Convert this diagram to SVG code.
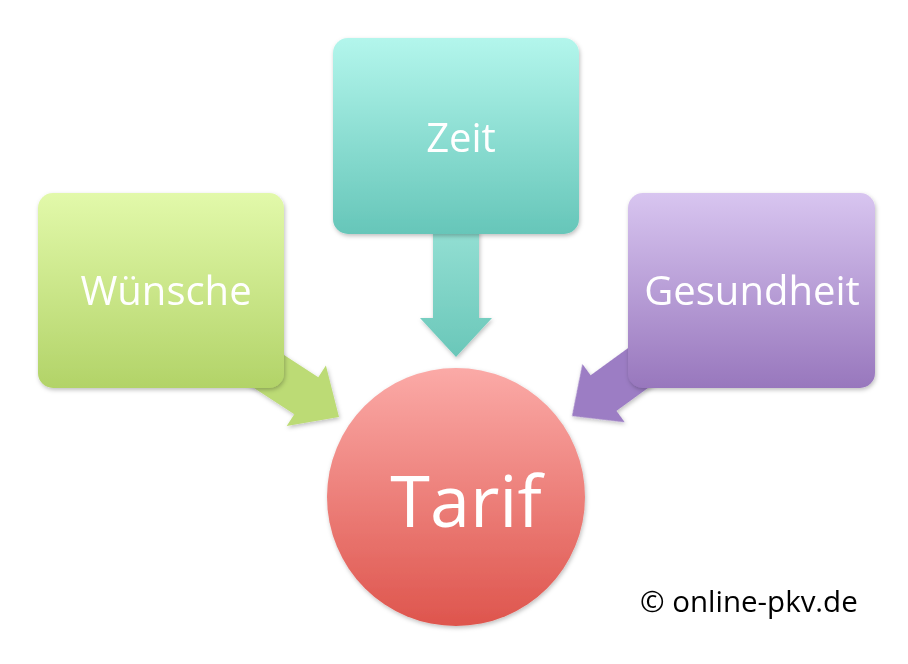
<svg xmlns="http://www.w3.org/2000/svg" width="908" height="664" viewBox="0 0 908 664">
<defs>
<linearGradient id="gGreen" x1="0" y1="0" x2="0" y2="1"><stop offset="0" stop-color="#e2f9aa"/><stop offset="1" stop-color="#b2d368"/></linearGradient>
<linearGradient id="gTeal" x1="0" y1="0" x2="0" y2="1"><stop offset="0" stop-color="#b3f6ec"/><stop offset="1" stop-color="#66c6b9"/></linearGradient>
<linearGradient id="gPurple" x1="0" y1="0" x2="0" y2="1"><stop offset="0" stop-color="#d8c5f0"/><stop offset="1" stop-color="#9877bd"/></linearGradient>
<linearGradient id="gRed" x1="0" y1="0" x2="0" y2="1"><stop offset="0" stop-color="#fbaaa7"/><stop offset="1" stop-color="#de554d"/></linearGradient>
<linearGradient id="gTealArrow" x1="0" y1="0" x2="0" y2="1"><stop offset="0" stop-color="#93dfd3"/><stop offset="1" stop-color="#6ac7b9"/></linearGradient>
<filter id="sh" x="-10%" y="-10%" width="125%" height="125%"><feDropShadow dx="1" dy="2" stdDeviation="2" flood-color="#000" flood-opacity="0.25"/></filter>
<path id="arrow" d="M0,0 L-36,-39 L-22,-39 L-22,-150 L22,-150 L22,-39 L36,-39 Z"/>
</defs>
<style>
.lbl{font-family:"Open Sans","Liberation Sans",sans-serif;fill:#fff;text-anchor:middle}
.box{filter:url(#sh)}
</style>
<rect width="908" height="664" fill="#fff"/>
<g id="connectors" filter="url(#sh)">
<use href="#arrow" fill="#bcdb75" transform="translate(339,417) rotate(-57)"/>
<use href="#arrow" fill="#9c7dc4" transform="translate(572,416) rotate(54)"/>
<path d="M433,230 L479,230 L479,318 L492,318 L456,357 L420,318 L433,318 Z" fill="url(#gTealArrow)"/>
</g>
<g id="node-wuensche">
<rect class="box" x="38" y="193" width="246" height="195" rx="15" fill="url(#gGreen)"/>
<text class="lbl" x="166" y="305" font-size="40">Wünsche</text>
</g>
<g id="node-zeit">
<rect class="box" x="333" y="38" width="246" height="196" rx="15" fill="url(#gTeal)"/>
<text class="lbl" x="461" y="152" font-size="40">Zeit</text>
</g>
<g id="node-gesundheit">
<rect class="box" x="628" y="193" width="247" height="195" rx="15" fill="url(#gPurple)"/>
<text class="lbl" x="752" y="305" font-size="40">Gesundheit</text>
</g>
<g id="node-tarif">
<circle cx="456" cy="497" r="129" fill="url(#gRed)" filter="url(#sh)"/>
<text class="lbl" x="466" y="527" font-size="72">Tarif</text>
</g>
<text x="640" y="612" font-family="'Open Sans','Liberation Sans',sans-serif" font-size="29.5" fill="#000">© online-pkv.de</text>
</svg>
